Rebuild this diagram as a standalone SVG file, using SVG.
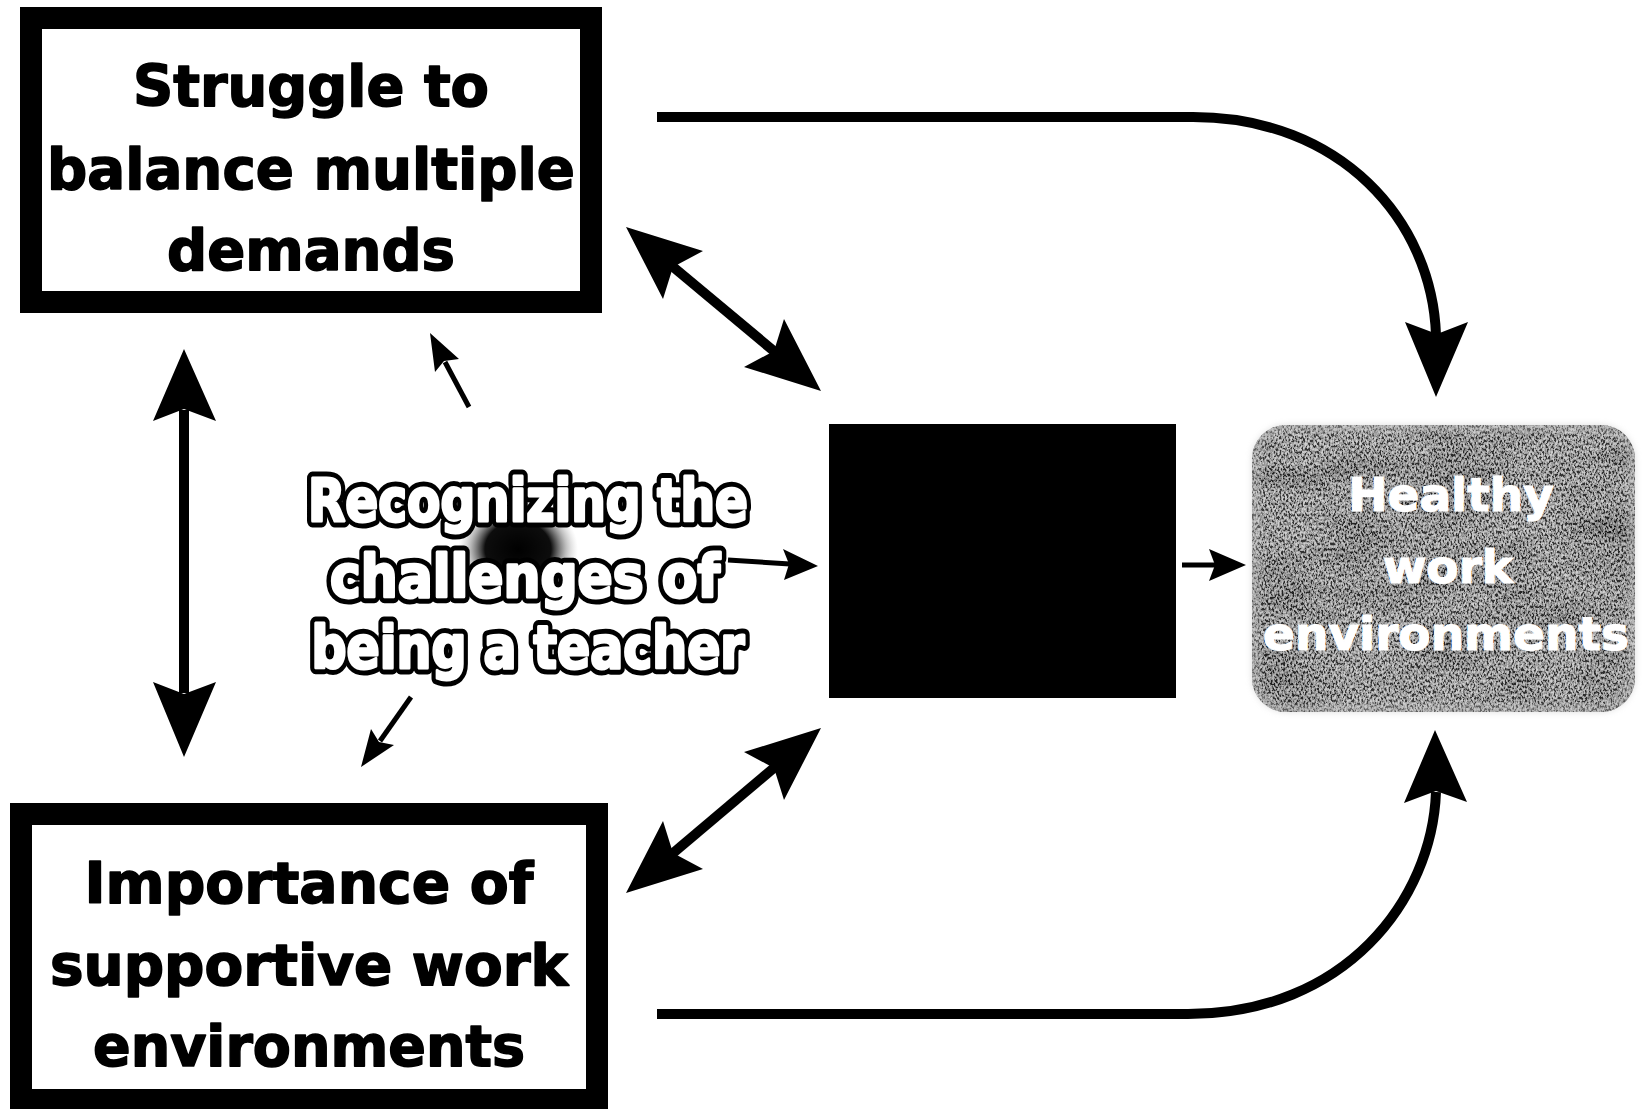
<svg xmlns="http://www.w3.org/2000/svg" width="1650" height="1109" viewBox="0 0 1650 1109">
<style>
.box{fill:#fff;stroke:#000;stroke-width:22}
.lbl{font-family:"DejaVu Sans","Liberation Sans",sans-serif;font-weight:bold;font-size:57px;fill:#000;stroke:#000;stroke-width:1.6;stroke-linejoin:round;text-anchor:middle}
.outk{font-family:"DejaVu Sans","Liberation Sans",sans-serif;font-weight:bold;font-size:58px;fill:#000;stroke:#000;stroke-width:13;stroke-linejoin:round;text-anchor:middle}
.outw{font-family:"DejaVu Sans","Liberation Sans",sans-serif;font-weight:bold;font-size:58px;fill:#fff;stroke:#fff;stroke-width:3;stroke-linejoin:round;text-anchor:middle}
.hw{font-family:"DejaVu Sans","Liberation Sans",sans-serif;font-weight:bold;font-size:47px;fill:#fff;stroke:#fff;stroke-width:1.2;text-anchor:middle}
.thick{fill:none;stroke:#000;stroke-width:10}
.thin{fill:none;stroke:#000;stroke-width:5}
.head{fill:#000;stroke:none}
</style>
<defs>
<radialGradient id="blobg" cx="50%" cy="50%" r="50%">
<stop offset="0" stop-color="#000" stop-opacity="1"/>
<stop offset="0.55" stop-color="#000" stop-opacity="0.95"/>
<stop offset="0.8" stop-color="#444" stop-opacity="0.35"/>
<stop offset="1" stop-color="#999" stop-opacity="0"/>
</radialGradient>
<filter id="grain" x="0" y="0" width="100%" height="100%">
<feTurbulence type="fractalNoise" baseFrequency="0.55 0.35" numOctaves="3" seed="7" result="n"/>
<feColorMatrix in="n" type="matrix" values="3 0 0 0 -1.1  3 0 0 0 -1.1  3 0 0 0 -1.1  0 0 0 0 0.6" result="g"/>
<feComposite in="g" in2="SourceGraphic" operator="in"/>
</filter>
<filter id="mottle" x="0" y="0" width="100%" height="100%">
<feTurbulence type="fractalNoise" baseFrequency="0.012 0.035" numOctaves="2" seed="4" result="m"/>
<feColorMatrix in="m" type="matrix" values="0 0 0 0 0  0 0 0 0 0  0 0 0 0 0  2.2 0 0 0 -0.9" result="d"/>
<feComposite in="d" in2="SourceGraphic" operator="in"/>
</filter>
<filter id="soft" x="-10%" y="-10%" width="120%" height="120%">
<feGaussianBlur stdDeviation="3"/>
</filter>
</defs>
<rect x="0" y="0" width="1650" height="1109" fill="#fff"/>

<g id="node-struggle">
<rect class="box" x="31" y="18" width="560" height="284"/>
<text class="lbl" x="311" y="106" textLength="356" lengthAdjust="spacingAndGlyphs">Struggle to</text>
<text class="lbl" x="311" y="189" textLength="528" lengthAdjust="spacingAndGlyphs">balance multiple</text>
<text class="lbl" x="311" y="270" textLength="288" lengthAdjust="spacingAndGlyphs">demands</text>
</g>

<g id="node-importance">
<rect class="box" x="21" y="814" width="576" height="286"/>
<text class="lbl" x="309" y="903" textLength="449" lengthAdjust="spacingAndGlyphs">Importance of</text>
<text class="lbl" x="309" y="985" textLength="518" lengthAdjust="spacingAndGlyphs">supportive work</text>
<text class="lbl" x="309" y="1066" textLength="432" lengthAdjust="spacingAndGlyphs">environments</text>
</g>

<g id="node-recognizing">
<ellipse cx="518" cy="549" rx="60" ry="50" fill="url(#blobg)"/>
<text class="outk" x="528" y="521" textLength="440" lengthAdjust="spacingAndGlyphs">Recognizing the</text>
<text class="outk" x="525" y="597" textLength="390" lengthAdjust="spacingAndGlyphs">challenges of</text>
<text class="outk" x="528" y="668" textLength="433" lengthAdjust="spacingAndGlyphs">being a teacher</text>
<text class="outw" x="528" y="521" textLength="440" lengthAdjust="spacingAndGlyphs">Recognizing the</text>
<text class="outw" x="525" y="597" textLength="390" lengthAdjust="spacingAndGlyphs">challenges of</text>
<text class="outw" x="528" y="668" textLength="433" lengthAdjust="spacingAndGlyphs">being a teacher</text>
</g>

<g id="node-black">
<rect x="829" y="424" width="347" height="274" fill="#000"/>
</g>

<g id="node-healthy">
<rect x="1252" y="425" width="383" height="287" rx="34" ry="34" fill="#898989"/>
<rect x="1252" y="425" width="383" height="287" rx="34" ry="34" fill="#000" filter="url(#mottle)" opacity="0.55"/>
<rect x="1252" y="425" width="383" height="287" rx="34" ry="34" fill="#000" filter="url(#grain)"/>
<rect x="1255" y="428" width="377" height="281" rx="32" ry="32" fill="none" stroke="#c4c4c4" stroke-width="6" opacity="0.6" filter="url(#soft)"/>
<text class="hw" x="1451" y="511">Healthy</text>
<text class="hw" x="1448" y="583">work</text>
<text class="hw" x="1446" y="650">environments</text>
</g>

<g id="connectors">
<path class="thick" d="M657,117 H1193 C1340,117 1432,220 1436,335"/>
<polygon class="head" points="1436,397 1405,322 1437,334 1468,322"/>
<path class="thick" d="M657,1014 H1188 C1345,1014 1432,900 1436,792"/>
<polygon class="head" points="1435,730 1404,803 1436,791 1467,802"/>
<path class="thick" d="M184,410 V693"/>
<polygon class="head" points="184,349 153,421 184,409 216,421"/>
<polygon class="head" points="184,757 153,682 184,694 216,682"/>
<path class="thick" d="M672,266 L775,352"/>
<polygon class="head" points="626,227 703,251 673,267 663,299"/>
<polygon class="head" points="821,391 784,319 774,351 744,367"/>
<path class="thick" d="M672,854 L775,767"/>
<polygon class="head" points="626,893 703,869 673,853 663,821"/>
<polygon class="head" points="821,728 784,800 774,768 744,752"/>
<path class="thin" d="M469,407 L445,362"/>
<polygon class="head" points="430,333 459,359 444,361 435,372"/>
<path class="thin" d="M411,697 L380,741"/>
<polygon class="head" points="361,767 371,729 379,742 394,745"/>
<path class="thin" d="M728,560 L790,564"/>
<polygon class="head" points="818,566 783,549 789,564 784,580"/>
<path class="thin" d="M1182,565 H1216"/>
<polygon class="head" points="1246,565 1209,549 1215,565 1209,581"/>
</g>
</svg>
